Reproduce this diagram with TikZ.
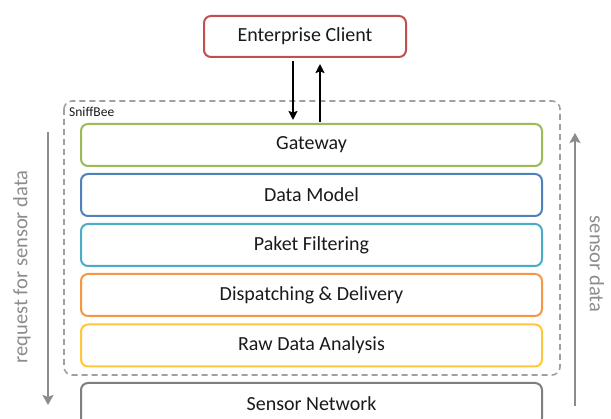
\documentclass[tikz,border=0pt]{standalone}
\usepackage{fontspec}
\setmainfont{Carlito}
\usetikzlibrary{arrows.meta}
\definecolor{cgreen}{HTML}{9BBB59}
\definecolor{cblue}{HTML}{4F81BD}
\definecolor{ccyan}{HTML}{4BACC6}
\definecolor{corange}{HTML}{F79646}
\definecolor{cyellow}{HTML}{FFC640}
\definecolor{cred}{HTML}{C0504D}
\definecolor{cgray}{HTML}{7F7F7F}
\definecolor{cdash}{HTML}{A0A0A0}
\definecolor{ctext}{HTML}{1A1A1A}
\definecolor{cside}{HTML}{8C8C8C}
\tikzset{
  layer/.style={draw, line width=2pt, rounded corners=7pt, minimum width=461pt, minimum height=42pt, inner sep=0pt, text=ctext, font=\fontsize{20}{22}\selectfont, fill=white},
  sidearrow/.style={draw=cside, line width=2.4pt, -{Stealth[length=10pt,width=11pt,inset=2pt]}},
  sidetext/.style={text=cside, font=\fontsize{20.5}{22}\selectfont},
  flow/.style={draw=black, line width=2pt, -{Stealth[length=9pt,width=9pt,inset=1.5pt]}}
}
\begin{document}
\begin{tikzpicture}[x=1pt,y=-1pt]
\useasboundingbox (0,0) rectangle (611,419);
\clip (0,0) rectangle (611,419);
% dashed container
\draw[cdash, line width=1.6pt, dash pattern=on 6pt off 4pt, rounded corners=8pt] (64,101) rectangle (560,375);
\node[anchor=west, text=ctext, font=\fontsize{13.5}{15}\selectfont, inner sep=0pt] (sb) at (69,112) {SniffBee};
% client
\node[layer, draw=cred, minimum width=202pt, minimum height=41pt] (ec) at (305,36.5) {Enterprise Client};
% layers
\node[layer, draw=cgreen] (gw) at (311.5,145) {Gateway};
\node[layer, draw=cblue] (dm) at (311.5,195) {Data Model};
\node[layer, draw=ccyan] (pf) at (311.5,245) {Paket Filtering};
\node[layer, draw=corange] (dd) at (311.5,295) {Dispatching \& Delivery};
\node[layer, draw=cyellow] (rd) at (311.5,345.5) {Raw Data Analysis};
\node[layer, draw=cgray] (sn) at (311.5,404) {Sensor Network};
% client arrows
\coordinate (xd) at (293,0);
\coordinate (xu) at (320,0);
\draw[flow, shorten <=3pt, shorten >=3pt] (ec.south -| xd) -- (gw.north -| xd);
\draw[flow, shorten <=1pt, shorten >=6pt] (gw.north -| xu) -- (ec.south -| xu);
% side arrows
\coordinate (la) at (48,132);
\coordinate (lb) at (48,405);
\coordinate (ra) at (575,406);
\coordinate (rb) at (575,133);
\draw[sidearrow] (la) -- (lb);
\draw[sidearrow] (ra) -- (rb);
\node[sidetext, rotate=90] (lt) at (22,267) {request for sensor data};
\node[sidetext, rotate=-90] (rt) at (597,264) {sensor data};
\end{tikzpicture}
\end{document}
